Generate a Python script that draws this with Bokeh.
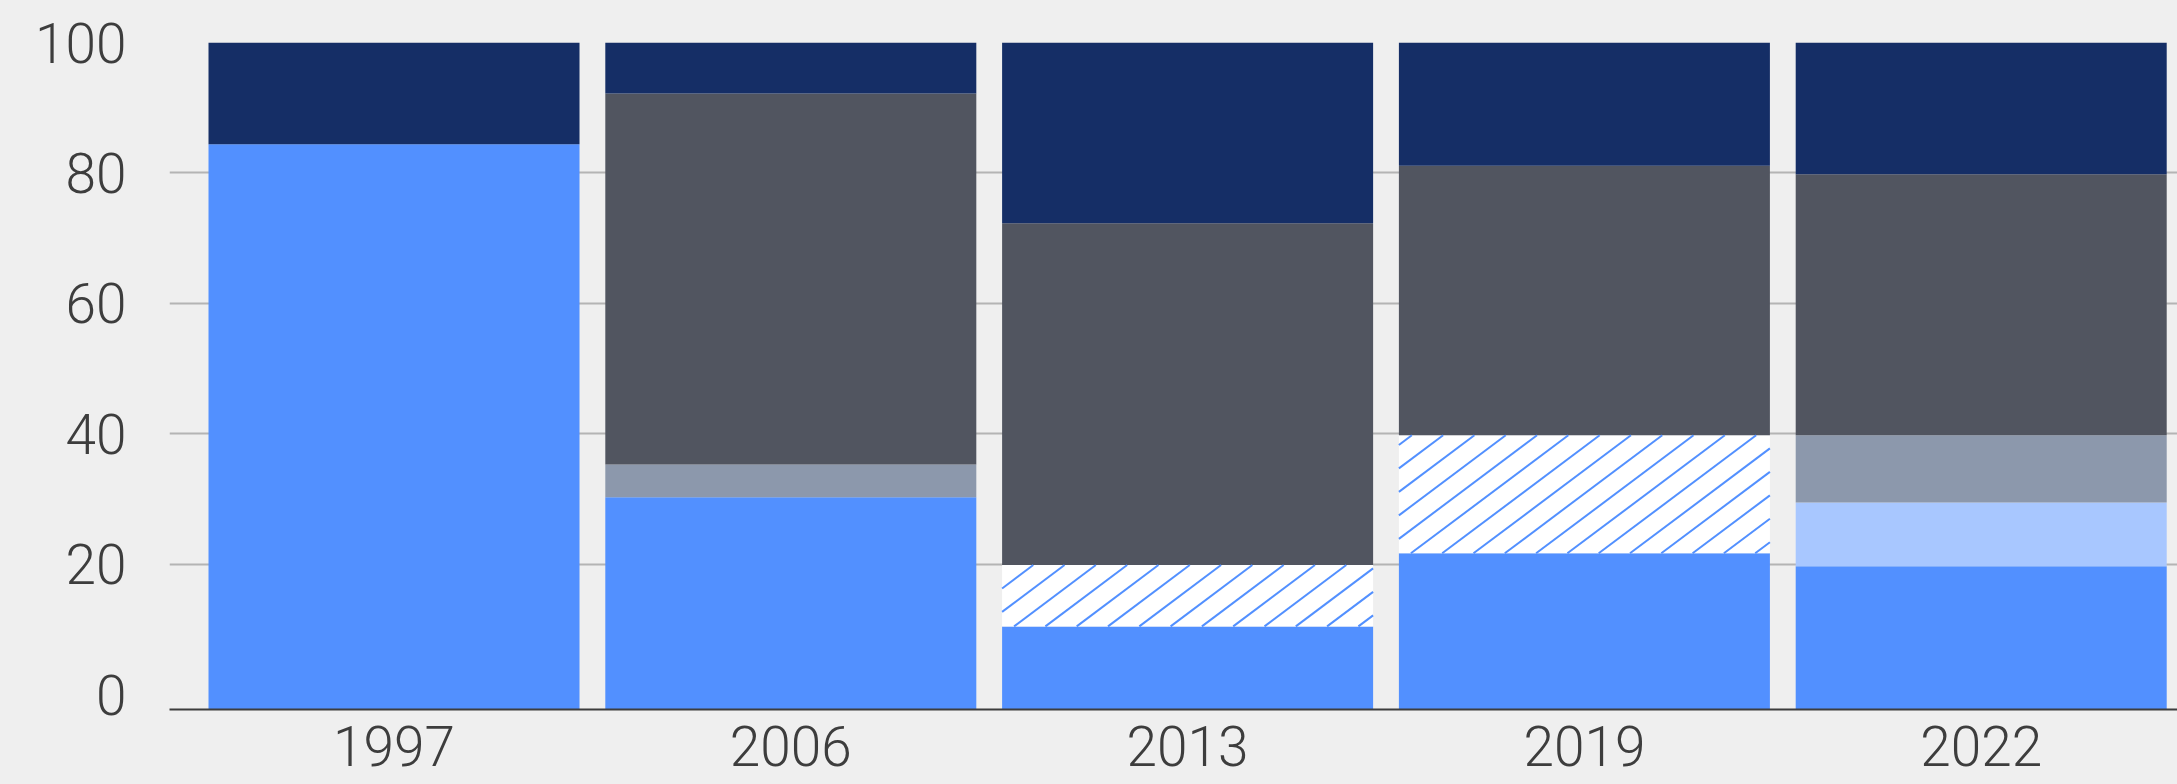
from bokeh.plotting import figure
from bokeh.models import FixedTicker, Range1d
from bokeh.embed import file_html
from bokeh.resources import INLINE

# ---- data (percent shares, stacked bottom -> top) ----
years = ["1997", "2006", "2013", "2019", "2022"]
blue = [84.4, 30.3, 10.5, 21.7, 19.7]
hatched = [0, 0, 9.4, 18.1, 0]
light_blue = [0, 0, 0, 0, 9.8]
slate = [0, 5.0, 0, 0, 10.3]
dark_gray = [0, 56.9, 52.4, 41.3, 40.0]
navy = [15.6, 7.8, 27.7, 18.9, 20.2]
y_ticks = [0, 20, 40, 60, 80, 100]

# ---- style / layout ----
AXIS_FLOOR = -2.24
BG = "#efefef"
TXT = "#3d3d3d"
FONT = "Roboto Light, Liberation Sans, sans-serif"
FS = "55px"
HATCH_COLOR = "#5290ff"
W, H = 2177, 784
BORDER_L, BORDER_T, BORDER_B = 169, 42, 75
X0, X1 = -0.5658, 4.4947
BAR_W = 0.935
HATCH_SLOPE_PX = 0.75      # screen rise per screen run
HATCH_STEP_PX = 31.3       # horizontal spacing of hatch lines
HATCH_PHASE_PX = 12.0      # line offset at bottom edge

series = [
    (blue, "#5290ff", False),
    (hatched, "#ffffff", True),
    (light_blue, "#a8c7ff", False),
    (slate, "#8c98ac", False),
    (dark_gray, "#515560", False),
    (navy, "#152e66", False),
]

n = len(years)
xs = list(range(n))

p = figure(width=W, height=H, output_backend="svg", toolbar_location=None,
           x_range=Range1d(X0, X1), y_range=Range1d(AXIS_FLOOR, 100),
           min_border_left=BORDER_L, min_border_right=0, min_border_top=BORDER_T,
           min_border_bottom=BORDER_B,
           background_fill_color=BG, border_fill_color=BG, outline_line_color=None)

# pixel scales of the frame (to draw the hatch at its screen angle)
sx = (W - BORDER_L) / (X1 - X0)
sy = (H - BORDER_T - BORDER_B) / (100 - AXIS_FLOOR)
k = HATCH_SLOPE_PX * sx / sy
step = HATCH_STEP_PX / sx
phase = HATCH_PHASE_PX / sx

hatch_xs, hatch_ys = [], []
cum = [0.0] * n
for vals, color, hatch in series:
    xx, bottoms, tops = [], [], []
    for i, v in enumerate(vals):
        if v <= 0:
            continue
        b = cum[i] if cum[i] > 0 else AXIS_FLOOR
        t = cum[i] + v
        xx.append(i)
        bottoms.append(b)
        tops.append(t)
        cum[i] += v
        if hatch:
            left, right = i - BAR_W / 2, i + BAR_W / 2
            span = (t - b) / k
            x0 = left + phase
            while x0 - step + span > left:
                x0 -= step
            while x0 < right:
                xa, xb = max(left, x0), min(right, x0 + span)
                if xb > xa:
                    hatch_xs.append([xa, xb])
                    hatch_ys.append([b + k * (xa - x0), b + k * (xb - x0)])
                x0 += step
    p.vbar(x=xx, bottom=bottoms, top=tops, width=BAR_W, fill_color=color, line_color=None)

p.multi_line(xs=hatch_xs, ys=hatch_ys, line_color=HATCH_COLOR, line_width=2)

# x axis
p.xaxis.ticker = FixedTicker(ticks=xs)
p.xaxis.major_label_overrides = {i: y for i, y in enumerate(years)}
p.xaxis.axis_line_color = TXT
p.xaxis.axis_line_width = 2
p.xaxis.major_tick_line_color = None
p.xaxis.minor_tick_line_color = None
p.xaxis.major_label_text_font = FONT
p.xaxis.major_label_text_font_size = FS
p.xaxis.major_label_text_color = TXT
p.xaxis.major_label_standoff = 10

# y axis
p.yaxis.ticker = FixedTicker(ticks=y_ticks)
p.yaxis.axis_line_color = None
p.yaxis.major_tick_line_color = None
p.yaxis.minor_tick_line_color = None
p.yaxis.major_label_text_font = FONT
p.yaxis.major_label_text_font_size = FS
p.yaxis.major_label_text_color = TXT
p.yaxis.major_label_standoff = 37

# grid
p.xgrid.grid_line_color = None
p.ygrid.ticker = FixedTicker(ticks=y_ticks[1:])
p.ygrid.grid_line_color = "#b4b4b4"
p.ygrid.grid_line_width = 2

html = file_html(p, INLINE)
html = html.replace("</head>", "<style>html,body{background:%s;}</style></head>" % BG, 1)
open("out.html", "w").write(html)
